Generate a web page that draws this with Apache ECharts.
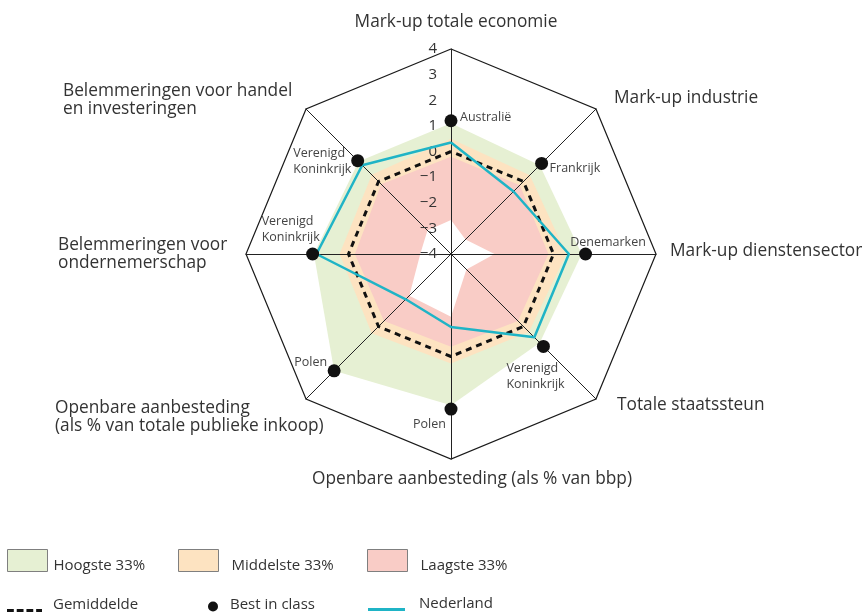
<!DOCTYPE html>
<html>
<head>
<meta charset="utf-8">
<script src="https://cdn.jsdelivr.net/npm/echarts@6/dist/echarts.min.js"></script>
<style>
html, body { margin: 0; padding: 0; background: #fff; }
#chart { width: 863px; height: 612px; }
</style>
</head>
<body>
<div id="chart"></div>
<script>
// axes in radar order (top, then counter-clockwise)
var categories = [
	'Mark-up totale economie',
	'Belemmeringen voor handel\nen investeringen',
	'Belemmeringen voor\nondernemerschap',
	'Openbare aanbesteding\n(als % van totale publieke inkoop)',
	'Openbare aanbesteding (als % van bbp)',
	'Totale staatssteun',
	'Mark-up dienstensector',
	'Mark-up industrie'
];
var bestCountry = ['Australië', 'Verenigd\nKoninkrijk', 'Verenigd\nKoninkrijk', 'Polen', 'Polen', 'Verenigd\nKoninkrijk', 'Denemarken', 'Frankrijk'];
var bestInClass = [1.2, 1.15, 1.4, 2.45, 2.05, 1.1, 1.25, 1.0];
var nederland = [0.35, 0.9, 1.25, -1.5, -1.15, 0.6, 0.6, -0.55];
var gemiddelde = [0, 0, 0, 0, 0, 0, 0, 0];
var hoogste = [1.1, 1.1, 1.35, 2.45, 1.9, 0.9, 1.1, 0.9];
var middelste = [0.5, 0.37, 0.35, 0.38, 0.27, 0.3, 0.5, 0.35];
var laagste = [-0.2, -0.15, -0.25, -0.3, -0.38, -0.3, -0.2, -0.2];
var minimum = [-2.67, -2.7, -2.8, -1.7, -1.55, -3.15, -2.3, -3.2];
var tickLabels = ['−4', '−3', '−2', '−1', '0', '1', '2', '3', '4'];

// placement of axis names [x, y, align]
var namePlace = [
	[456, 22, 'center'],
	[63, 100, 'left'],
	[58, 254, 'left'],
	[55, 417, 'left'],
	[472, 479, 'center'],
	[617, 405, 'left'],
	[670, 251, 'left'],
	[614, 98, 'left']
];
// placement of best-in-class country labels
var bestPlace = [
	{ position: 'right', distance: 8.5, offset: [0, -3] },
	{ position: 'left', distance: 6, offset: [0, 1] },
	{ position: 'top', distance: 8, offset: [-22, 0] },
	{ position: 'left', distance: 6.5, offset: [0, -8] },
	{ position: 'bottom', distance: 8, offset: [-21.5, 0] },
	{ position: 'bottom', distance: 14, offset: [-8, 0] },
	{ position: 'top', distance: 5, offset: [22.5, 0] },
	{ position: 'right', distance: 7.5, offset: [0, 5] }
];

var FONT = '"Open Sans", "Noto Sans", sans-serif';
var GREEN = '#e6f0d3', ORANGE = '#fde3c1', PINK = '#f9ccc6', CYAN = '#1fb4c6';

var chart = echarts.init(document.getElementById('chart'));

var indicators = [];
for (var i = 0; i < categories.length; i++) {
	var ind = { name: categories[i], min: -4, max: 4 };
	if (i == 0) ind.axisLabel = { show: true };
	indicators.push(ind);
}

function areaSeries(name, values, color) {
	return {
		type: 'radar', name: name, z: -1, silent: true, symbol: 'none',
		lineStyle: { width: 0, opacity: 0 },
		itemStyle: { color: color },
		areaStyle: { color: color, opacity: 1 },
		data: [{ name: name, value: values }]
	};
}

// one item per axis, only carrying that axis' value, used for the country labels
var labelData = [];
for (var i = 0; i < bestInClass.length; i++) {
	var v = [];
	for (var j = 0; j < bestInClass.length; j++) v.push(j == i ? bestInClass[j] : '-');
	labelData.push({
		name: 'Best in class label',
		value: v,
		label: {
			show: true,
			position: bestPlace[i].position,
			distance: bestPlace[i].distance,
			offset: bestPlace[i].offset
		}
	});
}

var splitColors = [];
for (var i = 0; i < tickLabels.length; i++) {
	splitColors.push(i == tickLabels.length - 1 ? '#1a1a1a' : 'rgba(0,0,0,0)');
}

var graphics = [];
for (var i = 0; i < categories.length; i++) {
	graphics.push({
		type: 'text', silent: true,
		style: {
			text: categories[i], x: namePlace[i][0], y: namePlace[i][1],
			align: namePlace[i][2], verticalAlign: 'middle',
			font: '17.3px ' + FONT, fill: '#333', lineHeight: 18.5
		}
	});
}

// shift > 0 puts the text that many px below the icon centre, < 0 above
function legendItem(name, left, top, w, h, icon, gap, shift, itemStyle) {
	var l = {
		data: [name], left: left, top: top, itemWidth: w, itemHeight: h, icon: icon,
		padding: 0, selectedMode: false,
		formatter: shift > 0 ? '{s| }\n{t|{name}}' : '{t|{name}}\n{s| }',
		textStyle: {
			fontFamily: FONT, fontSize: 15, color: '#333', padding: [0, 0, 0, gap],
			rich: {
				t: { fontFamily: FONT, fontSize: 15, color: '#333', lineHeight: 18 },
				s: { fontSize: 4, lineHeight: Math.abs(shift) * 2 }
			}
		}
	};
	if (itemStyle) l.itemStyle = itemStyle;
	return l;
}

var boxStyle = { borderColor: '#7f7f7f', borderWidth: 1 };

var option = {
	backgroundColor: '#fff',
	animation: false,
	textStyle: { fontFamily: FONT },
	graphic: graphics,
	legend: [
		legendItem('Hoogste 33%', 7, 549, 40, 22, 'rect', 1, 5, boxStyle),
		legendItem('Middelste 33%', 178, 549, 40, 22, 'rect', 8, 5, boxStyle),
		legendItem('Laagste 33%', 367, 549, 40, 22, 'rect', 8, 5, boxStyle),
		legendItem('Gemiddelde', 7, 597, 35, 3, 'path://M0,0h7v3h-7zM10,0h7v3h-7zM20,0h7v3h-7zM30,0h6v3h-6z', 6, -6),
		legendItem('Best in class', 208, 597, 10, 10, 'circle', 7, -2),
		legendItem('Nederland', 368, 596, 37, 3, 'rect', 9, -6)
	],
	radar: {
		center: [451, 254],
		radius: 205,
		startAngle: 90,
		shape: 'polygon',
		splitNumber: 8,
		indicator: indicators,
		axisName: { show: false },
		axisLine: { lineStyle: { color: '#222', width: 1 } },
		axisTick: { show: false },
		axisLabel: {
			show: false, fontSize: 15, color: '#333', margin: 14, fontFamily: FONT,
			formatter: function (v) { return tickLabels[Math.round(v) + 4]; }
		},
		splitLine: { lineStyle: { color: splitColors, width: 1.2 } },
		splitArea: { show: false }
	},
	series: [
		areaSeries('Hoogste 33%', hoogste, GREEN),
		areaSeries('Middelste 33%', middelste, ORANGE),
		areaSeries('Laagste 33%', laagste, PINK),
		areaSeries('Minimum', minimum, '#ffffff'),
		{
			type: 'radar', name: 'Gemiddelde', symbol: 'none', z: 3,
			itemStyle: { color: '#111' },
			lineStyle: { color: '#111', width: 3, type: [6, 5] },
			data: [{ name: 'Gemiddelde', value: gemiddelde }]
		},
		{
			type: 'radar', name: 'Nederland', symbol: 'none', z: 4,
			itemStyle: { color: CYAN },
			lineStyle: { color: CYAN, width: 2.5 },
			data: [{ name: 'Nederland', value: nederland }]
		},
		{
			type: 'radar', name: 'Best in class', symbol: 'circle', symbolSize: 13, z: 5,
			itemStyle: { color: '#111' },
			lineStyle: { width: 0, opacity: 0 },
			data: [{ name: 'Best in class', value: bestInClass }]
		},
		{
			type: 'radar', name: 'Best in class label', symbol: 'circle', symbolSize: 1, z: 5, silent: true,
			itemStyle: { color: 'rgba(0,0,0,0)' },
			lineStyle: { width: 0, opacity: 0 },
			label: {
				fontFamily: FONT, fontSize: 12.5, color: '#444',
				formatter: function (p) {
					var val = Array.isArray(p.value) ? p.value[p.dimensionIndex] : p.value;
					if (val === '-' || val == null || isNaN(val)) return '';
					var txt = bestCountry[p.dataIndex];
					if (txt.indexOf('\n') >= 0) {
						txt = txt.split('\n').map(function (s) { return '{a|' + s + '}'; }).join('\n');
					}
					return txt;
				},
				rich: { a: { fontFamily: FONT, fontSize: 12.5, color: '#444', width: 58, align: 'left', lineHeight: 16 } }
			},
			data: labelData
		}
	]
};

chart.setOption(option);
</script>
</body>
</html>
